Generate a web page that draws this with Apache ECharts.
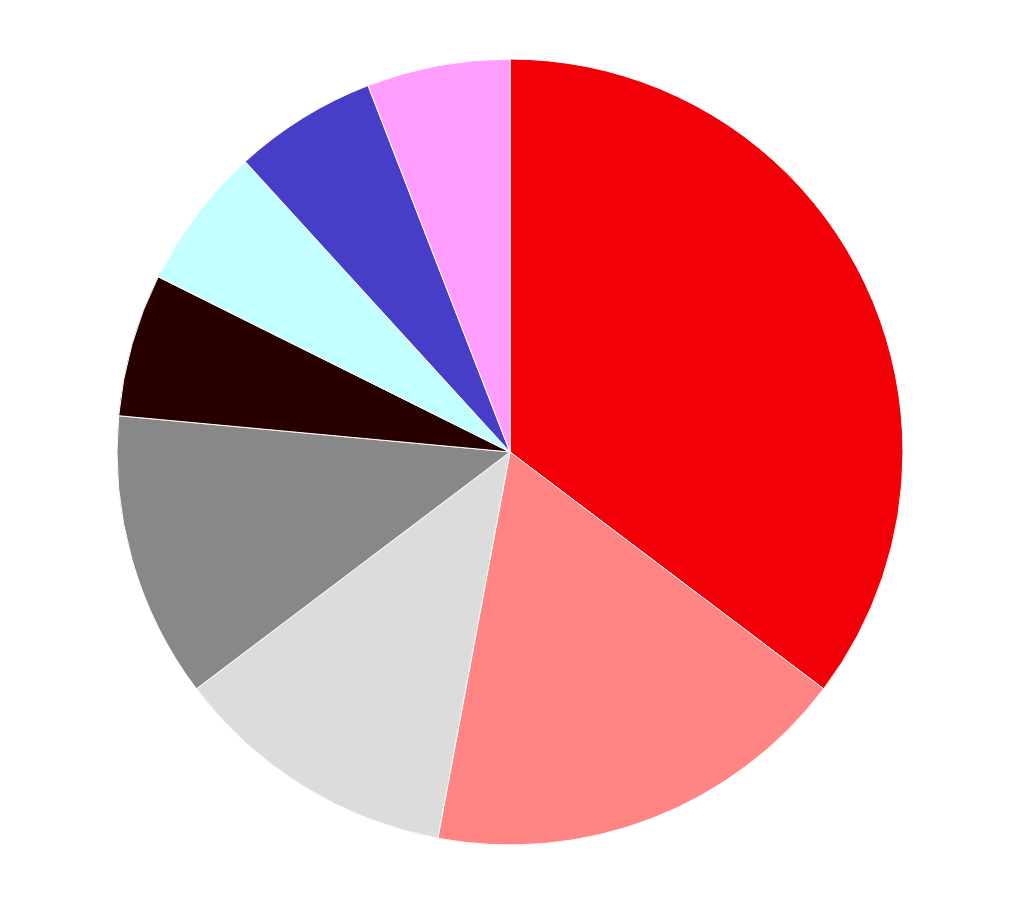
<!DOCTYPE html>
<html>
<head>
<meta charset="utf-8">
<script src="https://cdn.jsdelivr.net/npm/echarts@6/dist/echarts.min.js"></script>
<style>html,body{margin:0;padding:0;background:#fff;}#main{width:1020px;height:906px;}</style>
</head>
<body>
<div id="main"></div>
<script>
const categories = ['A', 'B', 'C', 'D', 'E', 'F', 'G', 'H'];
const values = [6, 3, 2, 2, 1, 1, 1, 1];
const colors = ['#F20008', '#FF8484', '#DCDCDC', '#888888', '#280000', '#C4FFFF', '#473EC8', '#FF9EFF'];

const chart = echarts.init(document.getElementById('main'), null, {renderer: 'canvas'});
chart.setOption({
  animation: false,
  backgroundColor: '#ffffff',
  series: [{
    type: 'pie',
    center: [510, 452],
    radius: [0, 393],
    startAngle: 90,
    clockwise: true,
    label: {show: false},
    labelLine: {show: false},
    itemStyle: {borderColor: '#ffffff', borderWidth: 1},
    emphasis: {disabled: true},
    data: categories.map((c, i) => ({name: c, value: values[i], itemStyle: {color: colors[i]}}))
  }]
});
</script>
</body>
</html>
